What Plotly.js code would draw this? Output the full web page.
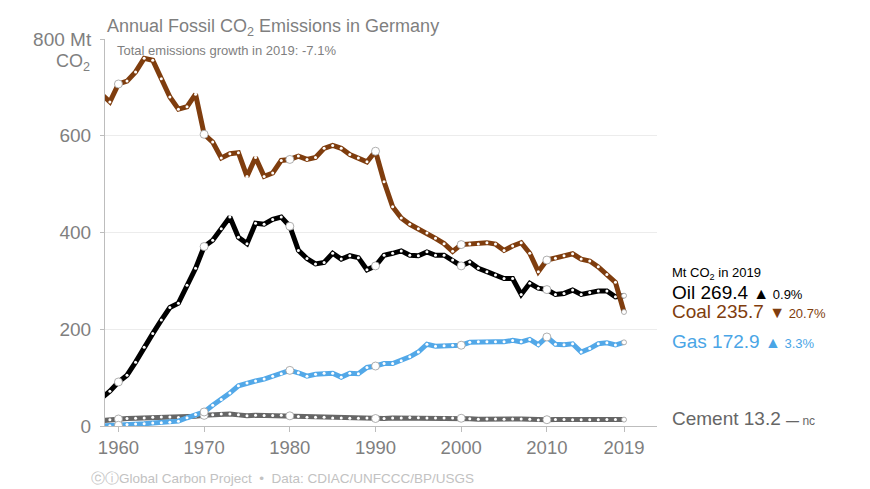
<!DOCTYPE html>
<html>
<head>
<meta charset="utf-8">
<script src="https://cdn.plot.ly/plotly-3.0.1.min.js"></script>
<style>html,body{margin:0;padding:0;background:#fff;}#chart{width:870px;height:489px;}</style>
</head>
<body>
<div id="chart"></div>
<script>
const years = [];
for (let y = 1958; y <= 2019; y++) years.push(y);

const coal = [686,670,707,713,732,760,756,718,680,655,660,686,603,587,554,563,565,516,555,516,
  523,549,551,558,551,555,574,580,574,561,554,546,568,505,453,430,417,408,399,388,
  377,361,375,376,376,379,376,363,372,379,357,319,343,347,352,356,345,341,329,313,297,235.7];
const oil = [57,72,91,105,132,163,191,219,245,254,291,326,371,384,408,432,390,377,419,417,
  427,432,413,363,346,335,338,357,345,352,348,323,331,353,357,362,353,352,360,353,
  353,343,331,339,326,319,312,305,305,272,295,285,282,272,274,281,272,276,279,279,267,269.4];
const gas = [0,0.5,1.5,3,4,4.5,6,6.5,8,10,17,24,29,43,55,68,83,89,93,97,
  103,108,115,110,103,107,109,109,101,109,108,121,124,129,129,135,143,153,169,165,
  166,167,167,173,174,174,174,174,177,174,179,168,184,169,168,170,153,160,170,172,167.4,172.9];
const cement = [11,13,14.5,15.5,16,16.5,18,18.5,18.5,17.5,18.5,20,22,23.5,25,25,23,21,22,21.5,
  21.5,22,21,19.5,18,18,18,16.5,16.5,16,16,16.5,15.5,15.5,16.5,16.5,17.5,17,16.5,16.5,
  16.5,16.5,16,15,14,14.5,14.5,14,14.5,14.5,14,12.5,13,13.5,13.5,13,13,13,13,13.5,13.5,13.2];

const xTicks = [1960,1970,1980,1990,2000,2010,2019];
const yTicks = [0,200,400,600,800];
const yTickText = ['0','200','400','600','800 Mt'];

const seriesNames = ['Cement','Gas','Oil','Coal'];
const seriesData = [cement, gas, oil, coal];
const seriesColors = ['#666666','#52a8e8','#000000','#7f3d0e'];

const traces = [];
seriesData.forEach((arr, i) => {
  traces.push({
    type: 'scatter', mode: 'lines+markers', name: seriesNames[i],
    x: years, y: arr,
    line: {color: seriesColors[i], width: 5},
    marker: {size: 3, color: '#ffffff', line: {width: 0}},
    hoverinfo: 'skip'
  });
});
// decade circles
const dx = [], dy = [];
seriesData.forEach(arr => {
  years.forEach((yr, j) => { if (yr % 10 === 0) { dx.push(yr); dy.push(arr[j]); } });
});
traces.push({type:'scatter', mode:'markers', x: dx, y: dy,
  marker:{size:8, color:'#ffffff', line:{color:'#9a9a9a', width:0.8}}, hoverinfo:'skip'});
// final-year circles
const ex = [], ey = [];
seriesData.forEach(arr => { ex.push(years[years.length-1]); ey.push(arr[arr.length-1]); });
traces.push({type:'scatter', mode:'markers', x: ex, y: ey,
  marker:{size:5, color:'#ffffff', line:{color:'#9a9a9a', width:0.8}}, hoverinfo:'skip'});

const FONT = 'Liberation Sans, Arial, Helvetica, sans-serif';
const gray = '#7f7f7f';
const LX = (670-105)/552;
const py = v => (425.7 - v) / 0.4835;

const layout = {
  width: 870, height: 489,
  margin: {l: 105, r: 213, t: 39, b: 63},
  paper_bgcolor: '#ffffff', plot_bgcolor: '#ffffff',
  showlegend: false,
  font: {family: FONT, color: gray},
  title: {text: 'Annual Fossil CO<sub>2</sub> Emissions in Germany',
    x: 107/870, xref: 'container', xanchor: 'left',
    y: 1 - 25.5/489, yref: 'container', yanchor: 'middle',
    font: {family: FONT, size: 18, color: gray}},
  xaxis: {range: [1958.43, 2022.85], tickvals: xTicks, ticktext: xTicks.map(String),
    showgrid: false, zeroline: false, showline: true, linecolor: '#bdbdbd', linewidth: 1,
    ticks: 'outside', ticklen: 5, tickcolor: '#bdbdbd',
    tickfont: {family: FONT, size: 18.5, color: gray}},
  yaxis: {range: [0, 800], tickvals: yTicks, ticktext: yTickText,
    showgrid: true, gridcolor: '#ececec', gridwidth: 1, zeroline: false,
    showline: true, linecolor: '#bdbdbd', linewidth: 1,
    ticks: 'outside', ticklen: 4, tickcolor: '#bdbdbd', ticklabelstandoff: 5,
    tickfont: {family: FONT, size: 19, color: gray}},
  annotations: [
    {text: 'CO<sub>2</sub>', xref: 'paper', x: 0, xshift: -13, xanchor: 'right',
     yref: 'y', y: py(62), yanchor: 'middle', showarrow: false,
     font: {family: FONT, size: 18, color: gray}},
    {text: 'Total emissions growth in 2019: -7.1%', xref: 'paper', x: (115-105)/552, xanchor: 'left',
     yref: 'y', y: py(50.5), yanchor: 'middle', showarrow: false,
     font: {family: FONT, size: 13, color: gray}},
    {text: 'Mt CO<sub>2</sub> in 2019', xref: 'paper', x: LX, xanchor: 'left',
     yref: 'y', y: py(273), yanchor: 'middle', showarrow: false,
     font: {family: FONT, size: 13, color: '#000000'}},
    {text: 'Oil 269.4 <span style="font-size:16px">▲</span><span style="font-size:13px"> 0.9%</span>',
     xref: 'paper', x: LX, xanchor: 'left',
     yref: 'y', y: py(292.7), yanchor: 'middle', showarrow: false,
     font: {family: FONT, size: 19, color: '#000000'}},
    {text: 'Coal 235.7 <span style="font-size:16px">▼</span><span style="font-size:13px"> 20.7%</span>',
     xref: 'paper', x: LX, xanchor: 'left',
     yref: 'y', y: py(311.7), yanchor: 'middle', showarrow: false,
     font: {family: FONT, size: 19, color: '#7f3d0e'}},
    {text: 'Gas 172.9 <span style="font-size:16px">▲</span><span style="font-size:13px"> 3.3%</span>',
     xref: 'paper', x: LX, xanchor: 'left',
     yref: 'y', y: py(341), yanchor: 'middle', showarrow: false,
     font: {family: FONT, size: 19, color: '#4aa5e6'}},
    {text: 'Cement 13.2 <b style="font-size:13px">—</b><span style="font-size:12px"> nc</span>',
     xref: 'paper', x: LX, xanchor: 'left',
     yref: 'y', y: py(418.3), yanchor: 'middle', showarrow: false,
     font: {family: FONT, size: 19, color: '#666666'}},
    {text: 'ⓒⓘGlobal Carbon Project  •  Data: CDIAC/UNFCCC/BP/USGS', xref: 'paper', x: (89-105)/552, xanchor: 'left',
     yref: 'paper', y: (426-478)/387, yanchor: 'middle', showarrow: false,
     font: {family: FONT, size: 13.5, color: '#c2c2c2'}}
  ]
};

Plotly.newPlot('chart', traces, layout, {staticPlot: true, displayModeBar: false});
</script>
</body>
</html>
